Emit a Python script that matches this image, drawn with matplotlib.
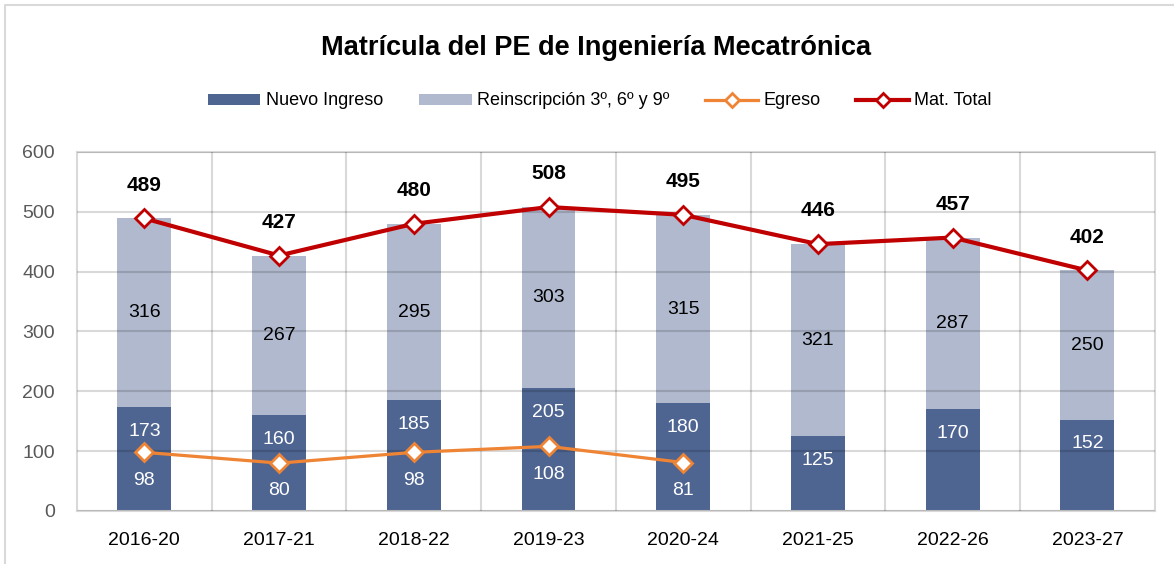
import numpy as np
import matplotlib.pyplot as plt
from matplotlib.lines import Line2D

plt.rcParams['font.family'] = ['Liberation Sans Narrow', 'Liberation Sans', 'DejaVu Sans']

# Data
cohortes = ['2016-20', '2017-21', '2018-22', '2019-23', '2020-24', '2021-25', '2022-26', '2023-27']
nuevo_ingreso = [173, 160, 185, 205, 180, 125, 170, 152]
reinscripcion = [316, 267, 295, 303, 315, 321, 287, 250]
egreso = [98, 80, 98, 108, 81, np.nan, np.nan, np.nan]
mat_total = [489, 427, 480, 508, 495, 446, 457, 402]

c_nuevo = '#4E6491'
c_reins = '#B0B9CE'
c_egreso = '#EE8434'
c_total = '#C00000'
c_grid = '#D9D9D9'

fig = plt.figure(figsize=(11.74, 5.64), dpi=100)
ax = fig.add_axes([0.0656, 0.094, 0.918, 0.6365])

x = np.arange(len(cohortes))
b1 = ax.bar(x, nuevo_ingreso, width=0.40, color=c_nuevo, zorder=1, label='Nuevo Ingreso')
b2 = ax.bar(x, reinscripcion, width=0.40, bottom=nuevo_ingreso, color=c_reins, zorder=1,
            label='Reinscripción 3º, 6º y 9º')
l1, = ax.plot(x, egreso, color=c_egreso, lw=2.3, marker='D', ms=9, mfc='white', mec=c_egreso,
              mew=2, zorder=3, label='Egreso')
l2, = ax.plot(x, mat_total, color=c_total, lw=3, marker='D', ms=9, mfc='white', mec=c_total,
              mew=2, zorder=3, label='Mat. Total')

# Labels
for i in range(len(cohortes)):
    ax.text(x[i], nuevo_ingreso[i] - 40, str(nuevo_ingreso[i]), ha='center', va='center',
            color='white', fontsize=14, zorder=4)
    ax.text(x[i], nuevo_ingreso[i] + reinscripcion[i] / 2, str(reinscripcion[i]),
            ha='center', va='center', color='black', fontsize=14, zorder=4)
    ax.annotate(str(mat_total[i]), (x[i], mat_total[i]), xytext=(0, 24),
                textcoords='offset points', ha='center', va='center',
                fontsize=15, fontweight='bold', zorder=4)
    if not np.isnan(egreso[i]):
        ax.annotate(str(int(egreso[i])), (x[i], egreso[i]), xytext=(0, -20),
                    textcoords='offset points', ha='center', va='center',
                    color='white', fontsize=14, zorder=4)

ax.set_xlim(-0.5, len(cohortes) - 0.5)
ax.set_ylim(0, 600)
ax.set_yticks(range(0, 601, 100))
ax.set_xticks(x)
ax.set_xticklabels(cohortes)
ax.set_xticks(np.arange(0.5, len(cohortes) - 0.5), minor=True)

ax.set_axisbelow(False)
ax.grid(axis='y', which='major', color='black', alpha=0.15, lw=1.5)
ax.grid(axis='x', which='minor', color='black', alpha=0.15, lw=1.5)
ax.tick_params(axis='both', which='both', length=0)
ax.tick_params(axis='y', labelsize=14, labelcolor='#595959', pad=16)
ax.tick_params(axis='x', labelsize=14, labelcolor='black', pad=15)
for s in ax.spines.values():
    s.set_color(c_grid)
    s.set_linewidth(1.5)

fig.text(0.508, 0.915, 'Matrícula del PE de Ingeniería Mecatrónica', ha='center', va='center',
         fontsize=19.5, fontweight='bold')
fig.legend(handles=[b1, b2, l1, l2], loc='center', bbox_to_anchor=(0.511, 0.821), ncol=4,
           frameon=False, fontsize=13, handlelength=2.9, handleheight=0.55,
           columnspacing=2.0, handletextpad=0.3, markerscale=0.75)

# outer border (left and top)
fig.add_artist(Line2D([0.0045, 0.0045, 1.0], [0.0, 0.991, 0.991], color=c_grid, lw=1.5,
                      transform=fig.transFigure))

fig.savefig('out.png', dpi=100)
